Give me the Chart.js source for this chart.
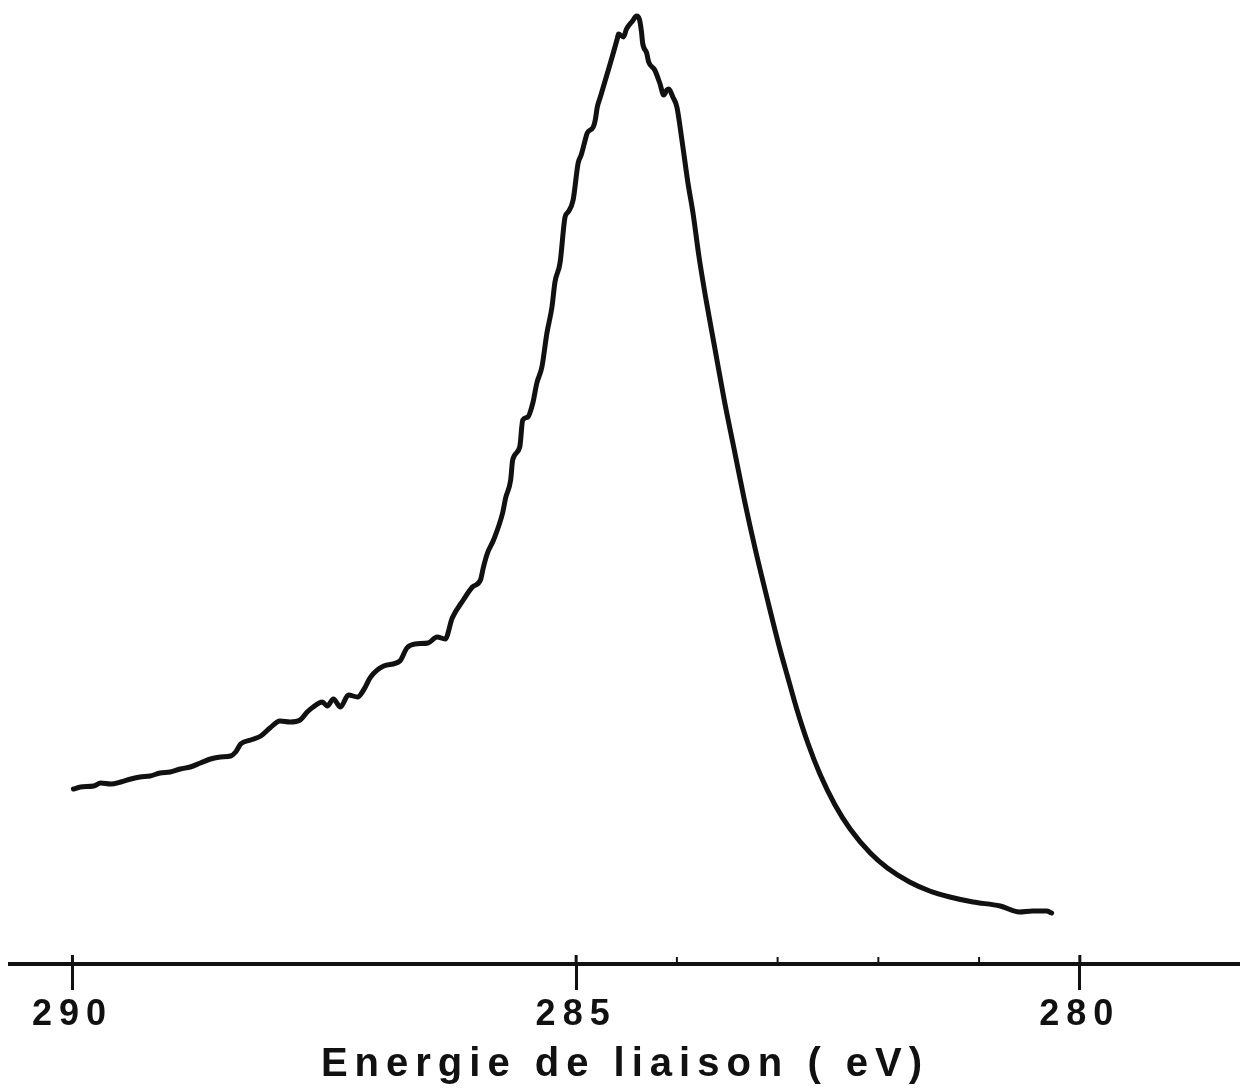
<!DOCTYPE html>
<html>
<head>
<meta charset="utf-8">
<script src="https://cdn.jsdelivr.net/npm/chart.js@4.4.1/dist/chart.umd.min.js"></script>
<style>
  html, body { margin: 0; padding: 0; background: #ffffff; }
  #wrap { width: 1240px; height: 1091px; position: relative; }
</style>
</head>
<body>
<div id="wrap"><canvas id="c" width="1240" height="1091"></canvas></div>
<script>
// Binding energy (eV)
const energies = [
  289.99, 289.92, 289.79, 289.72, 289.62, 289.52, 289.42, 289.33, 289.23, 289.13,
  289.03, 288.93, 288.83, 288.73, 288.63, 288.53, 288.43, 288.38, 288.33, 288.23,
  288.13, 288.04, 287.94, 287.84, 287.74, 287.67, 287.61, 287.52, 287.47, 287.41,
  287.34, 287.26, 287.17, 287.11, 287.04, 286.91, 286.75, 286.68, 286.60, 286.47,
  286.38, 286.30, 286.23, 286.12, 286.03, 285.95, 285.92, 285.88, 285.82, 285.73,
  285.70, 285.65, 285.63, 285.56, 285.53, 285.48, 285.43, 285.39, 285.34, 285.29,
  285.24, 285.21, 285.16, 285.11, 285.08, 285.03, 284.98, 284.95, 284.91, 284.89,
  284.83, 284.81, 284.79, 284.76, 284.66, 284.59, 284.58, 284.53, 284.50, 284.44,
  284.40, 284.37, 284.35, 284.34, 284.30, 284.28, 284.22, 284.17, 284.13, 284.10,
  284.08, 284.04, 284.00, 283.95, 283.89, 283.84, 283.78, 283.71, 283.62, 283.53,
  283.43, 283.33, 283.22, 283.10, 282.98, 282.90, 282.81, 282.70, 282.58, 282.43,
  282.28, 282.08, 281.91, 281.69, 281.49, 281.29, 281.06, 280.79, 280.60, 280.47,
  280.33, 280.28
];
// Intensity (arbitrary units)
const intensity = [
  174, 176, 177, 180, 179, 181, 184, 186, 187, 190,
  191, 194, 196, 200, 204, 206, 207, 211, 219, 223,
  227, 235, 242, 241, 243, 251, 256, 261, 257, 264,
  256, 268, 266, 273, 286, 297, 302, 315, 319, 320,
  326, 324, 345, 363, 376, 383, 396, 410, 423, 450,
  465, 483, 503, 516, 543, 546, 560, 580, 596, 630,
  656, 681, 700, 746, 751, 763, 800, 808, 823, 830,
  836, 843, 856, 866, 900, 925, 929, 926, 934, 942,
  947, 943, 930, 920, 910, 901, 893, 880, 868, 873,
  874, 866, 856, 823, 780, 750, 706, 663, 613, 563,
  513, 463, 413, 363, 315, 286, 254, 220, 189, 158,
  134, 110, 95, 81, 72, 66, 61, 57, 51, 52,
  52, 50
];
const tickValues = [290, 285, 284, 283, 282, 281, 280];
const majorTicks = [290, 285, 280];
const tickLabels = ['290', '285', '280'];
const axisTitle = 'Energie de liaison ( eV)';

const points = energies.map((e, i) => ({ x: e, y: intensity[i] }));
const isMajor = v => majorTicks.indexOf(v) !== -1;

const bgPlugin = {
  id: 'bg',
  beforeDraw(chart) {
    const ctx = chart.ctx;
    ctx.save();
    ctx.fillStyle = '#ffffff';
    ctx.fillRect(0, 0, chart.width, chart.height);
    ctx.restore();
    ctx.letterSpacing = '7px';
  }
};

// short upward tick marks on the axis line
const upTicks = {
  id: 'upTicks',
  afterDraw(chart) {
    const sx = chart.scales.x;
    const ctx = chart.ctx;
    const yb = chart.chartArea.bottom;
    ctx.save();
    ctx.strokeStyle = '#111';
    tickValues.forEach(v => {
      const px = sx.getPixelForValue(v);
      ctx.lineWidth = isMajor(v) ? 3 : 2;
      ctx.beginPath();
      ctx.moveTo(px, yb);
      ctx.lineTo(px, yb - (isMajor(v) ? 9 : 7));
      ctx.stroke();
    });
    ctx.restore();
  }
};

new Chart(document.getElementById('c'), {
  type: 'line',
  data: {
    datasets: [{
      data: points,
      borderColor: '#111111',
      borderWidth: 5,
      pointRadius: 0,
      cubicInterpolationMode: 'monotone',
      fill: false,
      borderJoinStyle: 'round',
      borderCapStyle: 'round'
    }]
  },
  options: {
    responsive: false,
    animation: false,
    events: [],
    layout: { padding: { left: 10, right: 0, top: 0, bottom: 0 } },
    plugins: { legend: { display: false }, tooltip: { enabled: false }, title: { display: false } },
    scales: {
      x: {
        type: 'linear',
        reverse: true,
        min: 278.41,
        max: 290.62,
        afterBuildTicks: s => { s.ticks = tickValues.map(v => ({ value: v })); },
        afterFit: s => { s.height = 127; },
        border: { display: true, color: '#111111', width: 4 },
        grid: {
          drawOnChartArea: false,
          drawTicks: true,
          tickLength: 26,
          tickWidth: ctx => (ctx.tick && isMajor(ctx.tick.value)) ? 3 : 0,
          tickColor: ctx => (ctx.tick && isMajor(ctx.tick.value)) ? '#111111' : 'rgba(0,0,0,0)'
        },
        ticks: {
          autoSkip: false,
          maxRotation: 0,
          padding: 3,
          color: '#111111',
          font: { family: 'Liberation Sans', size: 36, weight: 'bold' },
          callback: v => { const k = majorTicks.indexOf(v); return k === -1 ? '' : tickLabels[k]; }
        },
        title: {
          display: true,
          text: axisTitle,
          color: '#111111',
          font: { family: 'Liberation Sans', size: 40, weight: 'bold' },
          padding: { top: 0, bottom: 2 }
        }
      },
      y: {
        display: false,
        min: -1,
        max: 963
      }
    }
  },
  plugins: [bgPlugin, upTicks]
});
</script>
</body>
</html>
